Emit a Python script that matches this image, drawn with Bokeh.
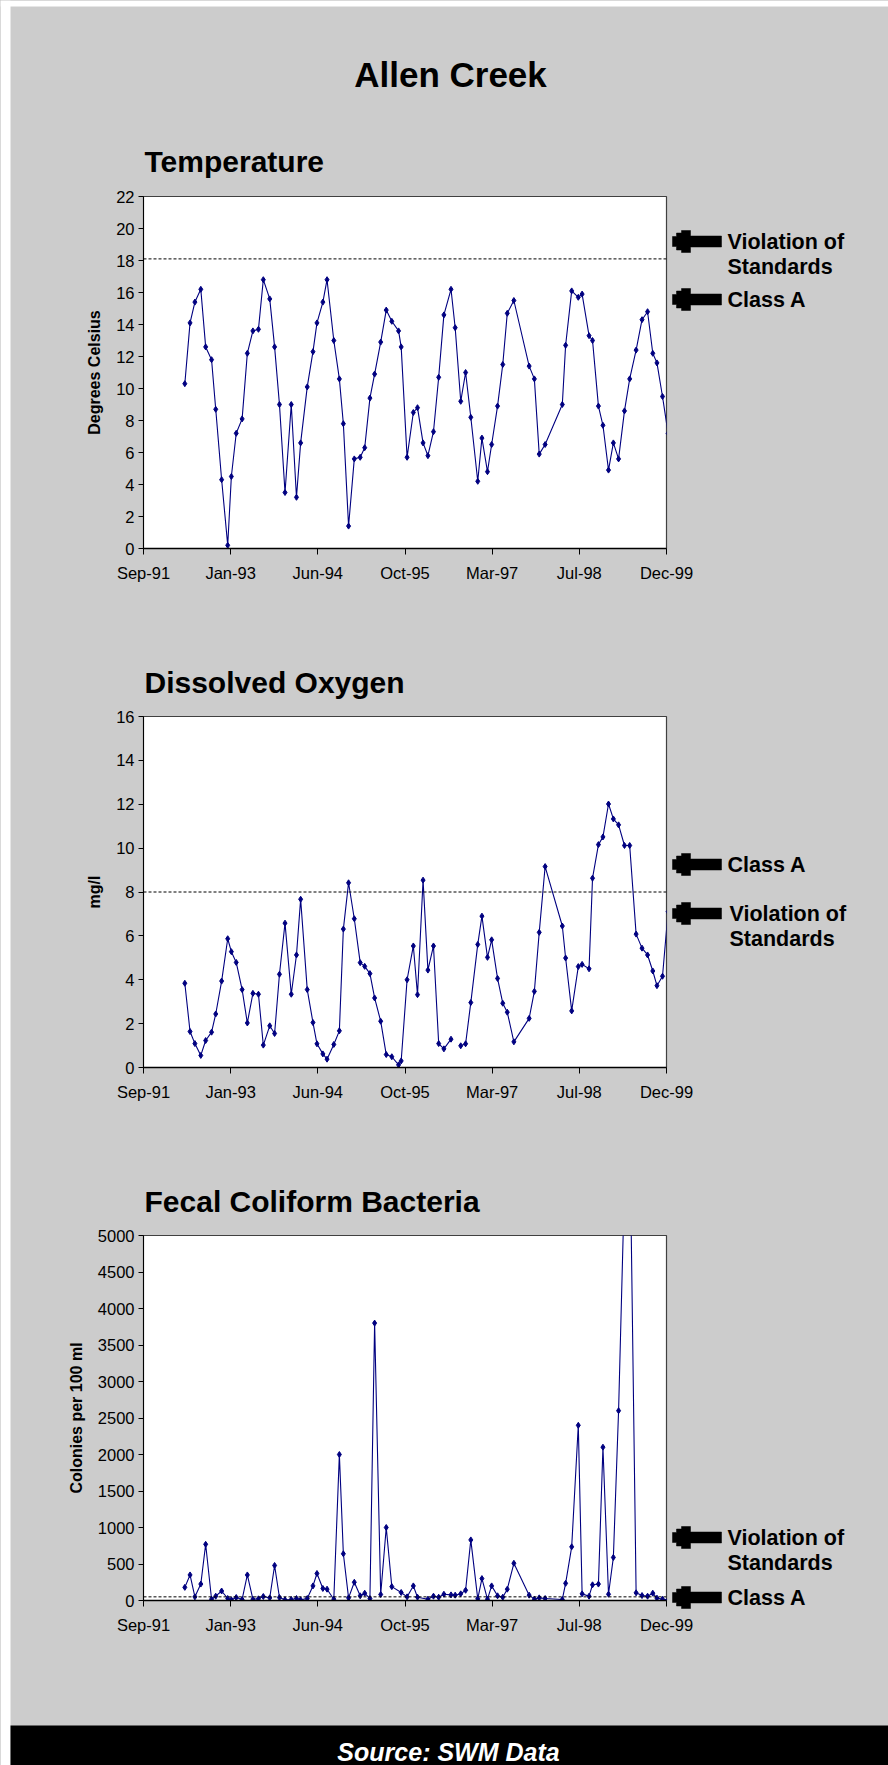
from datetime import datetime, timedelta

import numpy as np
import pandas as pd
from bokeh.core.properties import value
from bokeh.embed import file_html
from bokeh.layouts import column
from bokeh.models import (ColumnDataSource, DatetimeTickFormatter, FixedTicker, Range1d, Span)
from bokeh.plotting import figure
from bokeh.resources import INLINE

# ---------------------------------------------------------------- data
sample_dates = [
    "1992-04-30", "1992-05-30", "1992-06-27", "1992-07-31", "1992-08-28", "1992-10-01", "1992-10-25", "1992-11-28", "1993-01-02", "1993-01-23",
    "1993-02-20", "1993-03-26", "1993-04-25", "1993-05-27", "1993-06-28", "1993-07-26", "1993-09-01", "1993-09-29", "1993-10-27", "1993-11-28",
    "1994-01-03", "1994-02-02", "1994-02-26", "1994-04-05", "1994-05-08", "1994-05-31", "1994-07-04", "1994-07-28", "1994-09-05", "1994-10-07",
    "1994-10-30", "1994-11-29", "1995-01-01", "1995-02-04", "1995-03-02", "1995-04-01", "1995-04-28", "1995-06-02", "1995-07-04", "1995-08-05",
    "1995-09-13", "1995-09-28", "1995-11-01", "1995-12-07", "1995-12-31", "1996-02-01", "1996-02-29", "1996-04-01", "1996-05-01", "1996-05-31",
    "1996-07-11", "1996-08-04", "1996-09-05", "1996-10-03", "1996-11-02", "1996-12-12", "1997-01-05", "1997-02-06", "1997-03-02", "1997-04-05",
    "1997-05-05", "1997-05-31", "1997-07-08", "1997-10-04", "1997-11-03", "1997-12-01", "1998-01-04", "1998-04-13", "1998-05-02", "1998-06-06",
    "1998-07-14", "1998-08-05", "1998-09-14", "1998-10-04", "1998-11-07", "1998-12-03", "1999-01-04", "1999-02-01", "1999-03-03", "1999-04-06",
    "1999-05-06", "1999-06-12", "1999-07-16", "1999-08-17", "1999-09-16", "1999-10-10", "1999-11-11", "1999-12-13",
]

temperature_c = [
    10.3, 14.1, 15.4, 16.2, 12.6, 11.8, 8.7, 4.3, 0.2, 4.5,
    7.2, 8.1, 12.2, 13.6, 13.7, 16.8, 15.6, 12.6, 9.0, 3.5,
    9.0, 3.2, 6.6, 10.1, 12.3, 14.1, 15.4, 16.8, 13.0, 10.6,
    7.8, 1.4, 5.6, 5.7, 6.3, 9.4, 10.9, 12.9, 14.9, 14.2,
    13.6, 12.6, 5.7, 8.5, 8.8, 6.6, 5.8, 7.3, 10.7, 14.6,
    16.2, 13.8, 9.2, 11.0, 8.2, 4.2, 6.9, 4.8, 6.5, 8.9,
    11.5, 14.7, 15.5, 11.4, 10.6, 5.9, 6.5, 9.0, 12.7, 16.1,
    15.7, 15.9, 13.3, 13.0, 8.9, 7.7, 4.9, 6.6, 5.6, 8.6,
    10.6, 12.4, 14.3, 14.8, 12.2, 11.6, 9.5, 7.2,
]

dissolved_oxygen_mgl = [
    3.84, 1.64, 1.09, 0.55, 1.23, 1.61, 2.44, 3.94, 5.87, 5.28,
    4.79, 3.55, 2.03, 3.38, 3.34, 1.02, 1.90, 1.55, 4.25, 6.58,
    3.34, 5.13, 7.67, 3.55, 2.05, 1.08, 0.62, 0.38, 1.05, 1.67,
    6.31, 8.42, 6.78, 4.78, 4.61, 4.28, 3.17, 2.11, 0.59, 0.49,
    0.12, 0.30, 4.00, 5.54, 3.32, 8.54, 4.44, 5.54, 1.09, 0.85,
    1.29, None, 0.99, 1.08, 2.96, 5.61, 6.90, 5.02, 5.82, 4.06,
    2.93, 2.52, 1.17, 2.24, 3.47, 6.16, 9.16, 6.45, 4.99, 2.58,
    4.60, 4.70, 4.50, 8.63, 10.16, 10.51, 12.01, 11.33, 11.06, 10.12,
    10.12, 6.08, 5.44, 5.13, 4.40, 3.73, 4.16, 7.1,
]

fecal_coliform_per_100ml = [
    180, 350, 50, 225, 770, 18, 59, 130, 27, 9,
    41, 14, 350, 18, 23, 55, 36, 480, 41, 9,
    14, 27, 9, 27, 200, 370, 165, 155, 18, 2000,
    640, 36, 250, 64, 100, 27, 3800, 82, 1000, 190,
    None, 110, 50, 200, 45, None, 18, 59, 45, 86,
    77, 73, 91, 140, 830, 23, 300, 18, 200, 64,
    45, 155, 510, 73, 18, 36, 27, 14, 235, 735,
    2400, 91, 59, 215, 225, 2100, 86, 590, 2600, 5700,
    6600, 105, 68, 59, 100, 32, 18, 10,
]

temperature_standard = 18.1
oxygen_standard = 8.0
fecal_standard = 50

x_tick_labels = ["Sep-91", "Jan-93", "Jun-94", "Oct-95", "Mar-97", "Jul-98", "Dec-99"]

# ---------------------------------------------------------------- page layout (pixels)
PAGE_W, PAGE_H = 888, 1765
FRAME_LEFT, FRAME_RIGHT = 143, 666
GREY = "#cccccc"
NAVY = "#000080"
FONT = "Liberation Sans"
TICK_FONT_SIZE = "16.5px"

AXIS_START = datetime(1991, 9, 5)
TICK_STEP = timedelta(days=502)
AXIS_END = AXIS_START + TICK_STEP * (len(x_tick_labels) - 1)


def to_ms(dt):
    return (dt - datetime(1970, 1, 1)).total_seconds() * 1000.0


x_ticks = [to_ms(AXIS_START + TICK_STEP * i) for i in range(len(x_tick_labels))]


def chart(page_top, height, frame_top, frame_bottom, y_max, y_step, y_title,
          values, standard, keep_gaps):
    p = figure(width=PAGE_W, height=height, x_axis_type="datetime",
               x_range=Range1d(AXIS_START, AXIS_END), y_range=Range1d(0, y_max),
               output_backend="svg", toolbar_location=None,
               min_border_left=FRAME_LEFT, min_border_right=PAGE_W - FRAME_RIGHT,
               min_border_top=frame_top - page_top,
               min_border_bottom=page_top + height - frame_bottom)
    p.background_fill_color = "white"
    p.border_fill_color = GREY
    p.outline_line_color = "#404040"
    p.outline_line_width = 1.2
    p.grid.visible = False

    xa = p.xaxis[0]
    xa.ticker = FixedTicker(ticks=x_ticks, minor_ticks=[])
    xa.formatter = DatetimeTickFormatter(days="%b-%y", months="%b-%y", years="%b-%y",
                                         hours="%b-%y", minutes="%b-%y", seconds="%b-%y",
                                         milliseconds="%b-%y", microseconds="%b-%y")
    xa.major_label_overrides = {t: lab for t, lab in zip(x_ticks, x_tick_labels)}
    xa.axis_line_color = "black"
    xa.axis_line_width = 1.5
    xa.major_tick_out = 6
    xa.major_tick_in = 0
    xa.major_tick_line_color = "black"
    xa.major_label_standoff = 9
    xa.major_label_text_font = FONT
    xa.major_label_text_font_size = TICK_FONT_SIZE
    xa.major_label_text_color = "black"

    ya = p.yaxis[0]
    ya.ticker = FixedTicker(ticks=list(np.arange(0, y_max + 0.5 * y_step, y_step)), minor_ticks=[])
    ya.axis_line_color = "black"
    ya.axis_line_width = 1
    ya.major_tick_out = 5
    ya.major_tick_in = 0
    ya.major_tick_line_color = "black"
    ya.major_label_standoff = 4
    ya.major_label_text_font = FONT
    ya.major_label_text_font_size = TICK_FONT_SIZE
    ya.major_label_text_color = "black"
    ya.axis_label = y_title
    ya.axis_label_text_font = FONT
    ya.axis_label_text_font_size = "16px"
    ya.axis_label_text_font_style = "bold"
    ya.axis_label_text_color = "black"
    ya.axis_label_standoff = 10

    vals = np.array(values, dtype=float)
    dates = pd.to_datetime(sample_dates)
    if not keep_gaps:
        mask = ~np.isnan(vals)
        dates, vals = dates[mask], vals[mask]
    src = ColumnDataSource(dict(date=dates, value=vals))

    p.add_layout(Span(location=standard, dimension="width", line_color="black",
                      line_dash="3 2", line_width=1))
    p.line("date", "value", source=src, line_color=NAVY, line_width=1.1)
    p.scatter("date", "value", source=src, marker="diamond", size=6,
              fill_color=NAVY, line_color=NAVY)
    return p


temp = chart(0, 630, 196, 548, 22, 2, "Degrees Celsius", temperature_c,
             temperature_standard, True)
oxygen = chart(630, 520, 716, 1067, 16, 2, "mg/l", dissolved_oxygen_mgl,
               oxygen_standard, True)
fecal = chart(1150, 615, 1235, 1600, 5000, 500, "Colonies per 100 ml",
              fecal_coliform_per_100ml, fecal_standard, False)

# ---------------------------------------------------------------- page overlay:
# headings, standard markers, the source strip and the white page edge,
# drawn in page pixel coordinates on a transparent sheet over the charts
sheet = figure(width=PAGE_W, height=PAGE_H, x_range=Range1d(0, PAGE_W),
               y_range=Range1d(PAGE_H, 0), x_axis_type=None, y_axis_type=None,
               output_backend="svg", toolbar_location=None, min_border=0,
               styles={"position": "absolute", "top": "0px", "left": "0px", "z-index": "10"})
sheet.background_fill_alpha = 0
sheet.border_fill_alpha = 0
sheet.outline_line_color = None
sheet.grid.visible = False

# white page edge to the left and above the grey panel
sheet.quad(left=[0, 0], right=[10, PAGE_W], top=[0, 0], bottom=[PAGE_H, 6],
           fill_color="white", line_color=None)
# black source strip
sheet.quad(left=[10], right=[PAGE_W], top=[1725], bottom=[PAGE_H],
           fill_color="black", line_color=None)
sheet.text(x=[448], y=[1751], text=["Source: SWM Data"], text_font=value(FONT),
           text_font_size="25px", text_font_style="bold italic", text_color="white",
           text_align="center", text_baseline="middle")

headings = [("Allen Creek", 450, 74, "35px", "center"),
            ("Temperature", 144, 161, "30px", "left"),
            ("Dissolved Oxygen", 144, 682, "30px", "left"),
            ("Fecal Coliform Bacteria", 144, 1201, "30px", "left")]
for text, hx, hy, size, align in headings:
    sheet.text(x=[hx], y=[hy], text=[text], text_font=value(FONT), text_font_size=size,
               text_font_style="bold", text_color="black", text_align=align,
               text_baseline="middle")

# left-pointing block arrow, offsets in pixels from the tip
ARROW = [(0, -5), (4, -5), (4, -8.5), (9, -8.5), (9, -11), (18, -11), (18, -5.5), (49, -5.5),
         (49, 5.5), (18, 5.5), (18, 11), (9, 11), (9, 8.5), (4, 8.5), (4, 5), (0, 5)]

notes = [(241, 727, ["Violation of", "Standards"]), (299, 727, ["Class A"]),
         (864, 727, ["Class A"]), (913, 729, ["Violation of", "Standards"]),
         (1537, 727, ["Violation of", "Standards"]), (1597, 727, ["Class A"])]
arrow_xs, arrow_ys = [], []
note_x, note_y, note_text = [], [], []
for ay, tx, lines in notes:
    arrow_xs.append([672 + ox for ox, oy in ARROW])
    arrow_ys.append([ay + oy for ox, oy in ARROW])
    for i, line in enumerate(lines):
        note_x.append(tx)
        note_y.append(ay + 25.5 * i)
        note_text.append(line)
sheet.patches(arrow_xs, arrow_ys, fill_color="black", line_color="black", line_width=0.5)
sheet.text(x=note_x, y=note_y, text=note_text, text_font=value(FONT),
           text_font_size="21.5px", text_font_style="bold", text_color="black",
           text_align="left", text_baseline="middle")

charts = column(temp, oxygen, fecal, spacing=0, styles={"background-color": GREY})
page = column(charts, sheet, spacing=0)

with open("out.html", "w") as f:
    f.write(file_html(page, INLINE))
